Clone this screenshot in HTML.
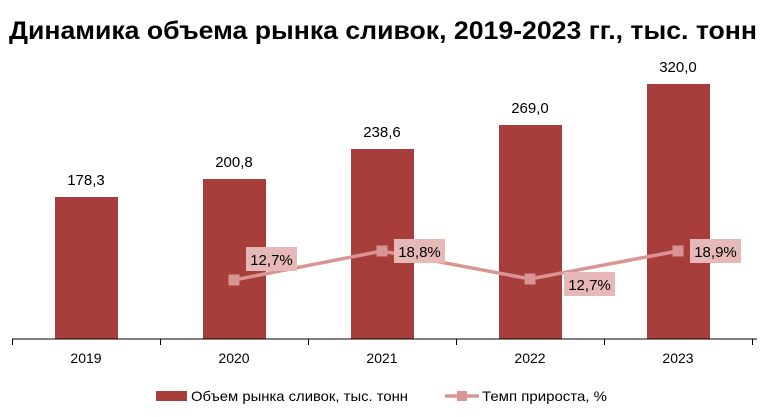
<!DOCTYPE html>
<html><head><meta charset="utf-8"><style>
body{margin:0;background:#fff;}
svg{display:block;font-family:"Liberation Sans","DejaVu Sans",sans-serif;}
</style></head><body>
<svg width="772" height="417" viewBox="0 0 772 417">
<text x="9" y="39" font-size="25" font-weight="bold" fill="#000" textLength="748" lengthAdjust="spacingAndGlyphs">Динамика объема рынка сливок, 2019-2023 гг., тыс. тонн</text>
<g fill="#a83e3b">
<rect x="55" y="197" width="63" height="142"/>
<rect x="203" y="179" width="63" height="160"/>
<rect x="351" y="149" width="63" height="190"/>
<rect x="499" y="125" width="63" height="214"/>
<rect x="647" y="84" width="63" height="255"/>
</g>
<g font-size="15" fill="#000" text-anchor="middle">
<text x="86" y="185">178,3</text>
<text x="234" y="167">200,8</text>
<text x="382" y="137">238,6</text>
<text x="530" y="113">269,0</text>
<text x="678" y="72">320,0</text>
</g>
<line x1="12" y1="339" x2="757" y2="339" stroke="#000" stroke-width="1"/>
<g stroke="#000" stroke-width="1">
<line x1="12.5" y1="339" x2="12.5" y2="345"/><line x1="160.5" y1="339" x2="160.5" y2="345"/>
<line x1="308.5" y1="339" x2="308.5" y2="345"/><line x1="456.5" y1="339" x2="456.5" y2="345"/>
<line x1="604.5" y1="339" x2="604.5" y2="345"/><line x1="752.5" y1="339" x2="752.5" y2="345"/>
</g>
<g font-size="14" fill="#000" text-anchor="middle">
<text x="86" y="363">2019</text><text x="234" y="363">2020</text><text x="382" y="363">2021</text>
<text x="530" y="363">2022</text><text x="678" y="363">2023</text>
</g>
<polyline points="234,280 382,251 530,279 678,251" fill="none" stroke="#d99594" stroke-width="3.5"/>
<g fill="#d99594">
<rect x="228.5" y="274.5" width="11" height="11"/><rect x="376.5" y="245.5" width="11" height="11"/>
<rect x="524.5" y="273.5" width="11" height="11"/><rect x="672.5" y="245.5" width="11" height="11"/>
</g>
<g fill="#e6b9b8">
<rect x="246" y="247" width="51" height="24"/><rect x="394" y="239" width="51" height="24"/>
<rect x="564" y="272" width="51" height="24"/><rect x="690" y="239" width="51" height="24"/>
</g>
<g font-size="15" fill="#000" text-anchor="middle">
<text x="271.5" y="265">12,7%</text><text x="419.5" y="257">18,8%</text>
<text x="589.5" y="290">12,7%</text><text x="715.5" y="257">18,9%</text>
</g>
<rect x="156" y="391" width="31" height="10" fill="#a83e3b"/>
<text x="191" y="401" font-size="14" fill="#000" textLength="217" lengthAdjust="spacingAndGlyphs">Объем рынка сливок, тыс. тонн</text>
<line x1="445" y1="396" x2="479" y2="396" stroke="#d99594" stroke-width="3.5"/>
<rect x="457" y="391" width="10" height="10" fill="#d99594"/>
<text x="482" y="401" font-size="14" fill="#000" textLength="125" lengthAdjust="spacingAndGlyphs">Темп прироста, %</text>
</svg>
</body></html>
